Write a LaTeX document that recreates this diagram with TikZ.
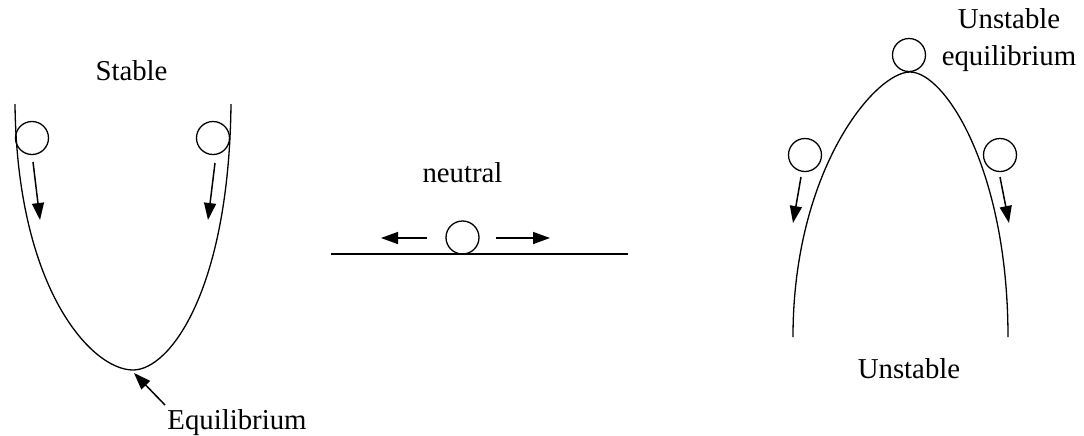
\documentclass[tikz,border=0pt]{standalone}
\usepackage{fontspec}
\setmainfont{Liberation Serif}
\usetikzlibrary{arrows.meta}
\begin{document}
\begin{tikzpicture}[x=0.5pt,y=-0.5pt,
  curve/.style={line width=0.65pt},
  ball/.style={circle,draw,line width=0.65pt,minimum size=16.5pt,inner sep=0pt},
  mv/.style={line width=0.75pt,-{Triangle[length=8.5pt,width=6pt]}},
  lbl/.style={font=\fontsize{14.4}{18.5}\selectfont,inner sep=0pt,anchor=base}]
\useasboundingbox (0,0) rectangle (1084,435);
% ---- Stable ----
\coordinate (sL) at (15,104);
\coordinate (sB) at (133,370);
\coordinate (sR) at (231,104);
\draw[curve] (sL) .. controls (17,290) and (92,370) .. (sB) .. controls (170,370) and (229,290) .. (sR);
\node[ball] (s1) at (32,138) {};
\node[ball] (s2) at (213,138) {};
\coordinate (s1a) at (33,162); \coordinate (s1b) at (40,220);
\coordinate (s2a) at (215,163); \coordinate (s2b) at (208,220);
\draw[mv] (s1a) -- (s1b);
\draw[mv] (s2a) -- (s2b);
\node[lbl] (stable) at (131.5,80) {Stable};
\node[lbl] (equ) at (237,429) {Equilibrium};
\coordinate (eqa) at (165,405); \coordinate (eqb) at (134,373);
\draw[mv] (eqa) -- (eqb);
% ---- Neutral ----
\coordinate (nL) at (331,254);
\coordinate (nR) at (628,254);
\draw[curve] (nL) -- (nR);
\node[ball] (n1) at (462.5,237.5) {};
\coordinate (nla) at (427,238); \coordinate (nlb) at (381,238);
\coordinate (nra) at (496,238); \coordinate (nrb) at (550,238);
\draw[mv] (nla) -- (nlb);
\draw[mv] (nra) -- (nrb);
\node[lbl] (neutral) at (462.5,182) {neutral};
% ---- Unstable ----
\coordinate (uL) at (793,337);
\coordinate (uT) at (910,72);
\coordinate (uR) at (1008,337);
\draw[curve] (uL) .. controls (793,170) and (875,72) .. (uT) .. controls (945,72) and (1008,170) .. (uR);
\node[ball] (u0) at (909,55) {};
\node[ball] (u1) at (805,155) {};
\node[ball] (u2) at (1000,155) {};
\coordinate (u1a) at (801,177); \coordinate (u1b) at (793,223);
\coordinate (u2a) at (1000,177); \coordinate (u2b) at (1009,223);
\draw[mv] (u1a) -- (u1b);
\draw[mv] (u2a) -- (u2b);
\node[lbl] (unst) at (909,378) {Unstable};
\node[lbl,align=center] (uneq) at (1009,65) {Unstable\\equilibrium};
\end{tikzpicture}
\end{document}
